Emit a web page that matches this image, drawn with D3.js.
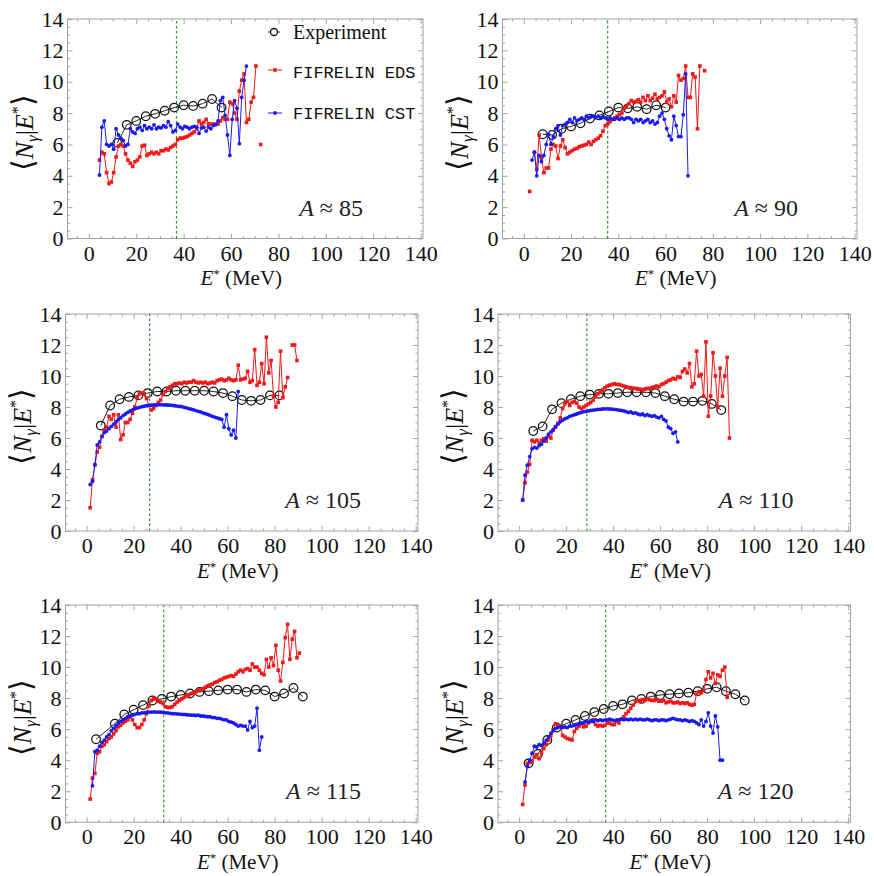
<!DOCTYPE html>
<html>
<head>
<meta charset="utf-8">
<script src="https://cdn.jsdelivr.net/npm/d3@7/dist/d3.min.js"></script>
<style>
  body { margin: 0; background: #fff; }
  svg { display: block; }
</style>
</head>
<body>
<svg id="fig" width="874" height="876" font-family="'Liberation Serif', 'Times New Roman', serif"></svg>
<script>
// ---- axis ticks ----
const xMajorTicks = [0, 20, 40, 60, 80, 100, 120, 140];
const yMajorTicks = [0, 2, 4, 6, 8, 10, 12, 14];

// ---- fragment mass groups ----
const massGroups = ["85", "90", "105", "110", "115", "120"];
// excitation-energy cut shown as the dashed line (MeV)
const energyCut = [37, 35.5, 26.8, 28.8, 32.8, 36.8];

// ---- experiment: [E* (MeV), <N_gamma|E*>] ----
const expA85 = [[12,6.1],[16,7.25],[20,7.5],[24,7.8],[28,7.95],[32,8.15],[36,8.35],[40,8.5],[44,8.45],[48,8.6],[52,8.9],[56,8.35]];
const expA90 = [[8,6.65],[12,6.6],[16,7.0],[20,7.15],[24,7.35],[28,7.65],[32,7.85],[36,8.1],[40,8.35],[44,8.3],[48,8.4],[52,8.25],[56,8.5],[60,8.35]];
const expA105 = [[6,6.8],[10,8.1],[14,8.5],[18,8.65],[22,8.75],[26,8.9],[30,9.0],[34,9.0],[38,9.05],[42,9.05],[46,9.05],[50,9.05],[54,9.0],[58,8.9],[62,8.7],[66,8.45],[70,8.4],[74,8.45],[78,8.75],[82,8.75]];
const expA110 = [[6,6.45],[10,6.75],[14,7.85],[18,8.25],[22,8.5],[26,8.7],[30,8.8],[34,8.85],[38,8.85],[42,8.9],[46,8.95],[50,8.95],[54,8.95],[58,8.9],[62,8.7],[66,8.5],[70,8.35],[74,8.35],[78,8.4],[82,8.2],[86,7.8]];
const expA115 = [[4,5.35],[12,6.35],[16,6.95],[20,7.25],[24,7.55],[28,7.85],[32,7.95],[36,8.1],[40,8.2],[44,8.3],[48,8.4],[52,8.45],[56,8.5],[60,8.55],[64,8.55],[68,8.4],[72,8.55],[76,8.5],[80,8.1],[84,8.3],[88,8.65],[92,8.1]];
const expA120 = [[4,3.8],[8,4.4],[12,5.3],[16,6.1],[20,6.35],[24,6.6],[28,6.85],[32,7.1],[36,7.3],[40,7.5],[44,7.6],[48,7.85],[52,7.95],[56,8.1],[60,8.2],[64,8.25],[68,8.3],[72,8.35],[76,8.45],[80,8.6],[84,8.7],[88,8.45],[92,8.25],[96,7.85]];

// ---- FIFRELIN EDS: 1 MeV bins, first bin centre in edsStart (null = empty bin) ----
const edsStart = [4.5, 2.5, 1.5, 1.5, 1.5, 1.5];
const edsA85 = [5.0,5.5,5.4,4.2,3.5,3.6,4.2,5.2,5.9,6.0, 5.9,5.4,5.0,4.8,4.6,4.9,5.0,5.2,5.9,5.95,
  5.3,5.4,5.5,5.4,5.5,5.4,5.6,5.6,5.7,5.65, 5.8,5.9,6.0,6.3,6.4,6.4,6.45,6.5,6.6,6.7,
  6.8,7.0,7.5,7.3,7.4,7.6,7.3,7.3,7.3,7.3, 7.3,7.5,7.7,7.6,7.6,8.7,8.6,8.0,7.6,9.4,
  10.1,10.5,7.4,7.6,8.7,9.0,11.0,null,6.0];
const edsA90 = [3.0,null,5.5,4.4,6.6,5.2,4.2,4.5,4.5,5.7, 6.0,5.9,5.1,5.9,6.3,5.8,5.4,5.5,5.6,5.7,
  5.75,5.85,5.9,5.95,6.0,6.15,6.0,6.2,6.3,6.4, 6.55,6.85,7.2,7.3,7.45,7.6,7.7,7.8,7.9,8.0,
  8.3,8.45,8.6,8.8,8.7,8.75,8.85,8.7,9.0,8.8, 9.1,8.8,8.95,9.2,8.9,9.0,9.1,9.35,8.7,8.9,
  8.4,9.1,8.7,10.4,10.1,10.2,11.0,9.0,9.0,10.5, 10.3,7.0,11.0,null,10.7];
const edsA105 = [1.5,3.3,4.25,5.1,5.4,6.1,6.5,6.7,7.4,7.2, 7.5,6.7,7.5,5.9,6.2,7.0,7.0,7.2,7.6,8.0,
  8.6,8.9,8.9,8.85,8.55,8.1,7.8,7.9,8.1,8.3, 8.45,8.8,9.0,9.2,9.3,9.4,9.5,9.5,9.55,9.5,
  9.6,9.55,9.6,9.6,9.7,9.6,9.55,9.6,9.55,9.6, 9.5,9.55,9.6,9.55,9.7,9.75,9.8,9.7,9.75,9.85,
  9.75,9.7,9.75,10.7,9.75,9.8,9.85,10.3,9.6,9.7, 11.7,9.4,9.6,10.8,9.5,12.5,10.2,11.0,8.7,8.0,
  8.3,11.6,8.6,9.3,9.9,null,12.0,12.0,11.0];
const edsA110 = [2.0,3.1,3.8,4.3,5.85,5.75,5.85,5.7,5.85,5.95, 5.8,6.1,6.0,6.5,6.7,6.95,7.3,7.9,8.25,8.35,
  8.1,8.3,8.35,8.25,8.0,7.9,8.0,8.1,8.2,8.3, 8.45,8.65,8.85,9.0,9.1,9.25,9.35,9.4,9.45,9.5,
  9.45,9.45,9.4,9.35,9.3,9.25,9.25,9.2,9.2,9.15, 9.15,9.1,9.15,9.2,9.2,9.25,9.3,9.35,9.3,9.45,
  9.5,9.6,9.7,9.75,9.85,9.8,9.95,9.9,10.3,10.45, 10.2,10.8,9.3,9.5,11.6,10.0,10.1,8.7,12.2,7.4,
  8.7,11.5,10.0,8.0,10.5,8.7,10.0,11.2,6.0];
const edsA115 = [1.5,2.85,3.15,4.45,4.55,4.9,5.0,5.2,5.4,5.5, 5.7,5.9,6.15,6.25,6.4,6.5,6.6,6.8,6.6,6.3,
  6.1,6.1,6.3,6.6,7.0,7.5,7.85,8.0,7.95,7.8, 7.75,7.65,7.45,7.4,7.4,7.45,7.6,7.75,7.85,7.95,
  8.05,8.15,8.2,8.3,8.35,8.4,8.5,8.55,8.6,8.7, 8.8,8.85,8.9,9.0,9.05,9.15,9.2,9.3,9.35,9.4,
  9.45,9.4,9.55,9.7,9.8,9.7,9.85,9.9,9.8,10.2, 10.0,10.0,9.8,9.6,9.5,10.5,10.0,10.6,10.1,11.4,
  9.8,9.1,10.3,11.9,12.75,10.5,11.8,12.3,10.6,10.9];
const edsA120 = [1.15,2.4,3.8,3.85,3.9,4.2,4.35,4.1,4.5,4.75, 5.0,5.3,5.6,5.95,6.35,6.2,6.2,5.6,5.5,5.4,
  5.35,5.3,5.85,6.05,6.2,6.35,6.15,6.2,6.4,6.5, 6.6,6.3,6.2,6.25,6.2,6.25,6.4,6.4,6.3,6.3,
  6.5,6.4,6.65,6.8,7.0,7.15,7.35,7.55,7.8,7.85, 7.8,7.9,7.85,7.95,7.9,7.85,7.85,7.9,7.8,7.8,
  7.85,7.7,7.75,7.8,7.7,7.7,7.75,7.65,7.7,7.65, 7.7,7.6,7.55,7.6,8.25,8.4,8.35,8.5,9.2,9.7,
  9.3,9.6,8.95,9.5,9.4,9.8,10.0,8.05];

// ---- FIFRELIN CST: 1 MeV bins, first bin centre in cstStart ----
const cstStart = [4.5, 3.5, 1.5, 1.5, 2.5, 2.5];
const cstA85 = [4.05,7.1,7.5,6.0,5.9,6.0,5.7,7.0,6.6,6.4, 6.25,5.9,6.0,7.0,6.8,6.7,7.0,7.1,6.9,7.2,
  7.0,7.1,7.0,7.25,7.0,7.1,7.05,7.2,7.1,7.45, 7.2,6.8,6.9,7.3,7.1,7.0,7.15,7.1,7.0,7.1,
  7.15,7.1,6.7,7.05,7.1,6.85,7.1,7.0,7.2,7.25, 7.5,8.8,9.0,7.85,6.6,5.3,7.6,8.8,8.3,6.05,
  9.0,10.1,11.0];
const cstA90 = [5.0,5.5,4.0,5.3,4.9,5.3,6.0,6.65,6.0,6.5, 7.0,7.2,6.6,7.2,7.3,7.4,7.6,7.4,7.7,7.5,
  7.6,7.7,7.6,7.8,7.7,7.8,7.8,7.7,7.8,7.7, 7.75,7.7,7.6,7.7,7.6,7.6,7.7,7.6,7.7,7.6,
  7.7,7.7,7.6,7.4,7.6,7.5,7.6,7.4,7.5,7.6, 7.4,7.5,7.3,7.4,7.8,8.0,7.6,7.0,6.55,6.3,
  7.8,7.2,6.5,6.5,7.9,10.5,4.0];
const cstA105 = [3.0,3.2,4.3,5.55,5.75,6.1,6.35,6.45,6.6,6.75, 6.9,7.05,7.2,7.3,7.45,7.55,7.65,7.75,7.82,7.88,
  7.93,7.98,8.02,8.05,8.08,8.1,8.12,8.13,8.14,8.15, 8.15,8.14,8.13,8.13,8.12,8.1,8.08,8.06,8.04,8.02,
  7.98,7.95,7.9,7.86,7.82,7.77,7.72,7.68,7.62,7.57, 7.52,7.46,7.4,7.35,7.3,7.25,7.2,6.7,7.5,6.6,
  6.2,6.5,6.0,9.0];
const cstA110 = [2.0,3.6,4.25,4.8,5.3,5.4,5.35,5.5,5.6,5.8, 6.0,6.25,6.4,6.55,6.75,6.9,7.05,7.15,7.25,7.3,
  7.4,7.45,7.5,7.55,7.6,7.65,7.7,7.72,7.75,7.78, 7.8,7.82,7.85,7.85,7.87,7.88,7.88,7.87,7.86,7.85,
  7.83,7.8,7.78,7.75,7.7,7.65,7.68,7.6,7.62,7.55, 7.5,7.55,7.45,7.5,7.45,7.4,7.45,7.35,7.3,7.4,
  7.2,7.1,6.7,6.6,6.3,6.4,5.75];
const cstA115 = [2.35,4.55,4.65,4.9,5.15,5.3,5.5,5.65,5.9,6.05, 6.25,6.4,6.5,6.6,6.7,6.8,6.85,6.9,6.95,7.0,
  7.0,7.05,7.05,7.08,7.1,7.1,7.12,7.1,7.1,7.1, 7.08,7.05,7.05,7.02,7.0,7.0,6.98,6.97,6.95,6.95,
  6.93,6.92,6.9,6.9,6.88,6.9,6.85,6.85,6.82,6.8, 6.8,6.75,6.75,6.7,6.7,6.65,6.6,6.6,6.5,6.45,
  6.4,6.3,6.2,6.25,6.2,6.2,5.95,6.5,6.1,6.2, 7.35,4.65,5.5];
const cstA120 = [2.6,3.6,4.0,4.45,4.9,4.85,5.0,4.95,5.1,5.3, 5.5,5.75,5.9,6.05,6.1,6.15,6.1,6.15,6.1,6.2,
  6.2,6.25,6.3,6.35,6.4,6.4,6.5,6.45,6.55,6.5, 6.6,6.55,6.6,6.55,6.6,6.6,6.65,6.6,6.55,6.6,
  6.6,6.65,6.6,6.65,6.6,6.65,6.6,6.65,6.6,6.65, 6.6,6.6,6.65,6.6,6.55,6.6,6.6,6.55,6.6,6.6,
  6.55,6.6,6.65,6.7,6.65,6.6,6.6,6.55,6.6,6.55, 6.5,6.55,6.5,6.4,6.3,6.6,6.2,6.5,7.05,6.2,
  5.75,6.85,6.15,4.0,4.0];

const expSeries = [expA85, expA90, expA105, expA110, expA115, expA120];
const edsSeries = [edsA85, edsA90, edsA105, edsA110, edsA115, edsA120];
const cstSeries = [cstA85, cstA90, cstA105, cstA110, cstA115, cstA120];

// ---- page layout: plot frame of each panel (px) ----
const frames = [
  {l: 67.5,  t: 19,  r: 423,   b: 238.5},
  {l: 502.5, t: 19,  r: 857,   b: 238.5},
  {l: 65.5,  t: 314, r: 418,   b: 531},
  {l: 498,   t: 314, r: 850.5, b: 531},
  {l: 65.5,  t: 605, r: 418,   b: 822.3},
  {l: 498,   t: 605, r: 850.5, b: 822.3}
];

const SERIF = "'Liberation Serif', 'Times New Roman', serif";
const MONO = "'Liberation Mono', 'Courier New', monospace";
const RED = "#f01818";
const BLUE = "#1a1af0";
const FRAME = "#a4a4a4";

const svg = d3.select("#fig");

function binned(vals, start) {
  return vals.map((v, k) => [start + k, v]);
}

function styleAxis(sel) {
  sel.attr("font-family", SERIF).attr("font-size", 22);
  sel.select(".domain").remove();
  sel.selectAll(".tick line").attr("stroke", FRAME).attr("stroke-width", 1);
  sel.selectAll(".tick text").attr("fill", "#111");
}

function drawPanel(i) {
  const f = frames[i];
  const g = svg.append("g");
  const x = d3.scaleLinear().domain([-9, 141]).range([f.l, f.r]);
  const y = d3.scaleLinear().domain([0, 14]).range([f.b, f.t]);

  const xMinor = d3.range(-5, 141, 5).filter(v => v % 20 !== 0);
  const yMinor = d3.range(0.5, 14, 0.5).filter(v => v % 2 !== 0);

  // frame ticks, pointing inwards on all four sides
  g.append("g").attr("transform", `translate(0,${f.b})`)
    .call(d3.axisBottom(x).tickValues(xMajorTicks).tickSize(-5).tickPadding(6.5))
    .call(styleAxis);
  g.append("g").attr("transform", `translate(0,${f.b})`)
    .call(d3.axisBottom(x).tickValues(xMinor).tickSize(-2.5).tickFormat(""))
    .call(styleAxis);
  g.append("g").attr("transform", `translate(0,${f.t})`)
    .call(d3.axisTop(x).tickValues(xMajorTicks).tickSize(-5).tickFormat(""))
    .call(styleAxis);
  g.append("g").attr("transform", `translate(0,${f.t})`)
    .call(d3.axisTop(x).tickValues(xMinor).tickSize(-2.5).tickFormat(""))
    .call(styleAxis);
  g.append("g").attr("transform", `translate(${f.l},0)`)
    .call(d3.axisLeft(y).tickValues(yMajorTicks).tickSize(-5).tickPadding(4))
    .call(styleAxis);
  g.append("g").attr("transform", `translate(${f.l},0)`)
    .call(d3.axisLeft(y).tickValues(yMinor).tickSize(-2.5).tickFormat(""))
    .call(styleAxis);
  g.append("g").attr("transform", `translate(${f.r},0)`)
    .call(d3.axisRight(y).tickValues(yMajorTicks).tickSize(-5).tickFormat(""))
    .call(styleAxis);
  g.append("g").attr("transform", `translate(${f.r},0)`)
    .call(d3.axisRight(y).tickValues(yMinor).tickSize(-2.5).tickFormat(""))
    .call(styleAxis);

  g.append("rect")
    .attr("x", f.l).attr("y", f.t)
    .attr("width", f.r - f.l).attr("height", f.b - f.t)
    .attr("fill", "none").attr("stroke", FRAME).attr("stroke-width", 1);

  // energy cut
  g.append("line")
    .attr("x1", x(energyCut[i])).attr("x2", x(energyCut[i]))
    .attr("y1", y(0)).attr("y2", y(14))
    .attr("stroke", "#2f8f2f").attr("stroke-width", 1.2)
    .attr("stroke-dasharray", "2.5,2.5");

  const line = d3.line()
    .defined(d => d[1] !== null)
    .x(d => x(d[0])).y(d => y(d[1]));

  // experiment
  const exp = expSeries[i];
  g.append("path").datum(exp)
    .attr("d", line).attr("fill", "none")
    .attr("stroke", "#222").attr("stroke-width", 1);
  g.selectAll(".exp").data(exp).enter().append("circle")
    .attr("cx", d => x(d[0])).attr("cy", d => y(d[1])).attr("r", 4.3)
    .attr("fill", "none").attr("stroke", "#111").attr("stroke-width", 1.25);

  // FIFRELIN EDS
  const eds = binned(edsSeries[i], edsStart[i]);
  g.append("path").datum(eds)
    .attr("d", line).attr("fill", "none")
    .attr("stroke", RED).attr("stroke-width", 1);
  g.selectAll(".eds").data(eds.filter(d => d[1] !== null)).enter().append("rect")
    .attr("x", d => x(d[0]) - 1.8).attr("y", d => y(d[1]) - 1.8)
    .attr("width", 3.6).attr("height", 3.6).attr("fill", RED);

  // FIFRELIN CST
  const cst = binned(cstSeries[i], cstStart[i]);
  g.append("path").datum(cst)
    .attr("d", line).attr("fill", "none")
    .attr("stroke", BLUE).attr("stroke-width", 1);
  g.selectAll(".cst").data(cst.filter(d => d[1] !== null)).enter().append("circle")
    .attr("cx", d => x(d[0])).attr("cy", d => y(d[1])).attr("r", 1.9)
    .attr("fill", BLUE);

  // axis titles
  const xt = g.append("text")
    .attr("x", (f.l + f.r) / 2 - 4).attr("y", f.b + 46.5)
    .attr("text-anchor", "middle")
    .attr("font-family", SERIF).attr("font-size", 21).attr("fill", "#111");
  xt.append("tspan").attr("font-style", "italic").text("E");
  xt.append("tspan").attr("font-size", 13).attr("dy", -7).text("*");
  xt.append("tspan").attr("dy", 7).text(" (MeV)");

  const yt = g.append("text")
    .attr("transform", `translate(${f.l - 35},${(f.t + f.b) / 2 + 4}) rotate(-90)`)
    .attr("text-anchor", "middle")
    .attr("font-family", SERIF).attr("font-size", 26).attr("fill", "#111");
  yt.append("tspan").attr("font-size", 30).text("\u27E8");
  yt.append("tspan").attr("font-style", "italic").text("N");
  yt.append("tspan").attr("font-style", "italic").attr("font-size", 17).attr("dy", 5).text("\u03B3");
  yt.append("tspan").attr("dy", -5).text("|");
  yt.append("tspan").attr("font-style", "italic").text("E");
  yt.append("tspan").attr("font-size", 16).attr("dy", -10).text("*");
  yt.append("tspan").attr("font-size", 30).attr("dy", 10).text("\u27E9");

  // mass label
  const at = g.append("text")
    .attr("x", f.l + 295.5).attr("y", f.b - 23)
    .attr("text-anchor", "end")
    .attr("font-family", SERIF).attr("font-size", 24).attr("fill", "#222");
  at.append("tspan").attr("font-style", "italic").text("A");
  at.append("tspan").text(" \u2248 " + massGroups[i]);
}

d3.range(6).forEach(drawPanel);

// legend (first panel)
const lg = svg.append("g");
lg.append("line").attr("x1", 268).attr("x2", 280).attr("y1", 32).attr("y2", 32)
  .attr("stroke", "#222").attr("stroke-width", 1);
lg.append("circle").attr("cx", 274).attr("cy", 32).attr("r", 3.5)
  .attr("fill", "#fff").attr("stroke", "#111").attr("stroke-width", 1.3);
lg.append("text").attr("x", 293).attr("y", 39)
  .attr("font-family", SERIF).attr("font-size", 20).attr("fill", "#111").text("Experiment");

lg.append("line").attr("x1", 268).attr("x2", 282).attr("y1", 70).attr("y2", 70)
  .attr("stroke", RED).attr("stroke-width", 1);
lg.append("rect").attr("x", 273.2).attr("y", 68.2).attr("width", 3.6).attr("height", 3.6).attr("fill", RED);
lg.append("text").attr("x", 293).attr("y", 78)
  .attr("font-family", MONO).attr("font-size", 17).attr("fill", "#111").text("FIFRELIN EDS");

lg.append("line").attr("x1", 268).attr("x2", 282).attr("y1", 113).attr("y2", 113)
  .attr("stroke", BLUE).attr("stroke-width", 1);
lg.append("circle").attr("cx", 275).attr("cy", 113).attr("r", 1.9).attr("fill", BLUE);
lg.append("text").attr("x", 293).attr("y", 119)
  .attr("font-family", MONO).attr("font-size", 17).attr("fill", "#111").text("FIFRELIN CST");
</script>
</body>
</html>
